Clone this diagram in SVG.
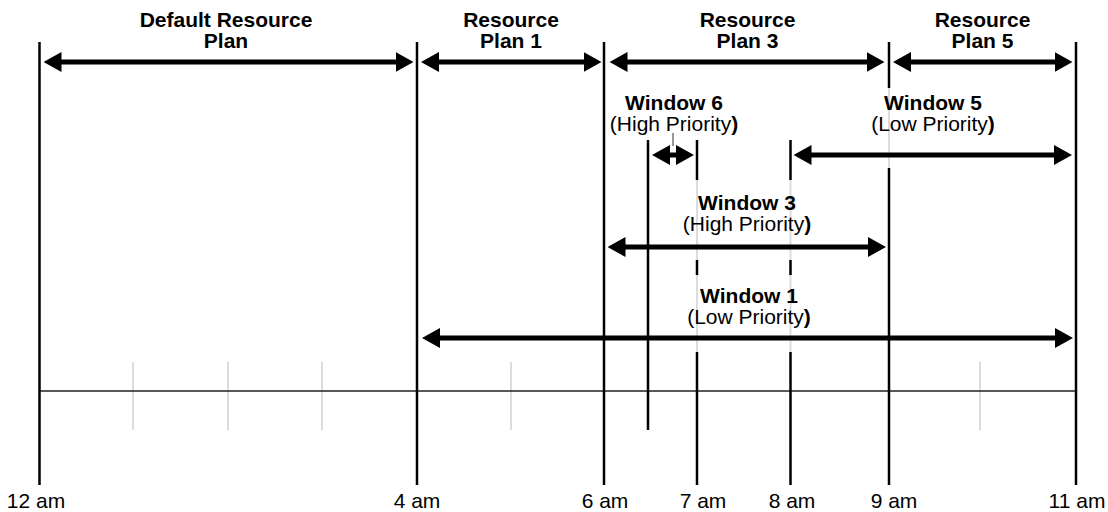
<svg xmlns="http://www.w3.org/2000/svg" width="1108" height="512" viewBox="0 0 1108 512">
<style>
.t{font-family:"Liberation Sans",Arial,Helvetica,sans-serif;font-size:21px;fill:#000;text-anchor:middle}
.b{font-weight:bold}
.v{stroke:#000;stroke-width:2.5;fill:none}
.lt{stroke:#dcdcdc;stroke-width:2;fill:none}
.ax{stroke:#222;stroke-width:1.5;fill:none}
.ar{stroke:#000;stroke-width:5;fill:none;marker-start:url(#ah);marker-end:url(#ah)}
</style>
<defs>
<marker id="ah" markerUnits="userSpaceOnUse" markerWidth="18" markerHeight="20" viewBox="0 0 18 20" refX="6" refY="10" orient="auto-start-reverse">
<path d="M0,0 L18,10 L0,20 Z" fill="#000"/>
</marker>
</defs>
<rect width="1108" height="512" fill="#fff"/>
<g id="grid">
<line class="lt" x1="133" y1="362" x2="133" y2="430"/>
<line class="lt" x1="228" y1="362" x2="228" y2="430"/>
<line class="lt" x1="322" y1="362" x2="322" y2="430"/>
<line class="lt" x1="511" y1="362" x2="511" y2="430"/>
<line class="lt" x1="980" y1="362" x2="980" y2="430"/>
<line class="ax" x1="39.5" y1="391" x2="1076" y2="391"/>
</g>
<g id="time-lines">
<line class="v" x1="39.5" y1="42" x2="39.5" y2="485"/>
<line class="v" x1="417" y1="42" x2="417" y2="485"/>
<line class="v" x1="604" y1="42" x2="604" y2="485"/>
<line class="v" x1="648" y1="140" x2="648" y2="430"/>
<line class="v" x1="697" y1="140" x2="697" y2="180"/>
<line class="lt" x1="697" y1="180" x2="697" y2="260"/>
<line class="v" x1="697" y1="260" x2="697" y2="275"/>
<line class="lt" x1="697" y1="275" x2="697" y2="352"/>
<line class="v" x1="697" y1="352" x2="697" y2="485"/>
<line class="v" x1="790.5" y1="140" x2="790.5" y2="180"/>
<line class="lt" x1="790.5" y1="180" x2="790.5" y2="260"/>
<line class="v" x1="790.5" y1="260" x2="790.5" y2="275"/>
<line class="lt" x1="790.5" y1="275" x2="790.5" y2="352"/>
<line class="v" x1="790.5" y1="352" x2="790.5" y2="485"/>
<line class="v" x1="889" y1="42" x2="889" y2="88"/>
<line class="lt" x1="889" y1="88" x2="889" y2="168"/>
<line class="v" x1="889" y1="168" x2="889" y2="485"/>
<line class="v" x1="1076" y1="42" x2="1076" y2="485"/>
</g>
<g id="connectors">
<line class="ar" x1="55.5" y1="62" x2="401.5" y2="62"/>
<line class="ar" x1="433" y1="62" x2="589.5" y2="62"/>
<line class="ar" x1="621.5" y1="62" x2="872.5" y2="62"/>
<line class="ar" x1="905" y1="62" x2="1060.5" y2="62"/>
<line class="ar" x1="664" y1="155" x2="682" y2="155"/>
<line x1="673" y1="133" x2="673" y2="146" stroke="#333" stroke-width="1"/>
<line class="ar" x1="805.5" y1="155" x2="1060" y2="155"/>
<line class="ar" x1="619.5" y1="247" x2="874" y2="247"/>
<line class="ar" x1="434" y1="338" x2="1061" y2="338"/>
</g>
<g id="plan-default"><text class="t b" x="226" y="27">Default Resource</text><text class="t b" x="226" y="48">Plan</text></g>
<g id="plan-1"><text class="t b" x="511" y="27">Resource</text><text class="t b" x="511" y="48">Plan 1</text></g>
<g id="plan-3"><text class="t b" x="747.5" y="27">Resource</text><text class="t b" x="747.5" y="48">Plan 3</text></g>
<g id="plan-5"><text class="t b" x="982.5" y="27">Resource</text><text class="t b" x="982.5" y="48">Plan 5</text></g>
<g id="window-6"><text class="t b" x="674" y="110">Window 6</text><text class="t" x="674" y="131">(High Priority<tspan class="b">)</tspan></text></g>
<g id="window-5"><text class="t b" x="933" y="110">Window 5</text><text class="t" x="933" y="131">(Low Priority<tspan class="b">)</tspan></text></g>
<g id="window-3"><text class="t b" x="747" y="210">Window 3</text><text class="t" x="747" y="231">(High Priority<tspan class="b">)</tspan></text></g>
<g id="window-1"><text class="t b" x="749" y="303">Window 1</text><text class="t" x="749" y="324">(Low Priority<tspan class="b">)</tspan></text></g>
<g id="time-labels">
<text class="t" x="36" y="508">12 am</text>
<text class="t" x="417" y="508">4 am</text>
<text class="t" x="605" y="508">6 am</text>
<text class="t" x="703" y="508">7 am</text>
<text class="t" x="792" y="508">8 am</text>
<text class="t" x="894" y="508">9 am</text>
<text class="t" x="1077" y="508">11 am</text>
</g>
</svg>
